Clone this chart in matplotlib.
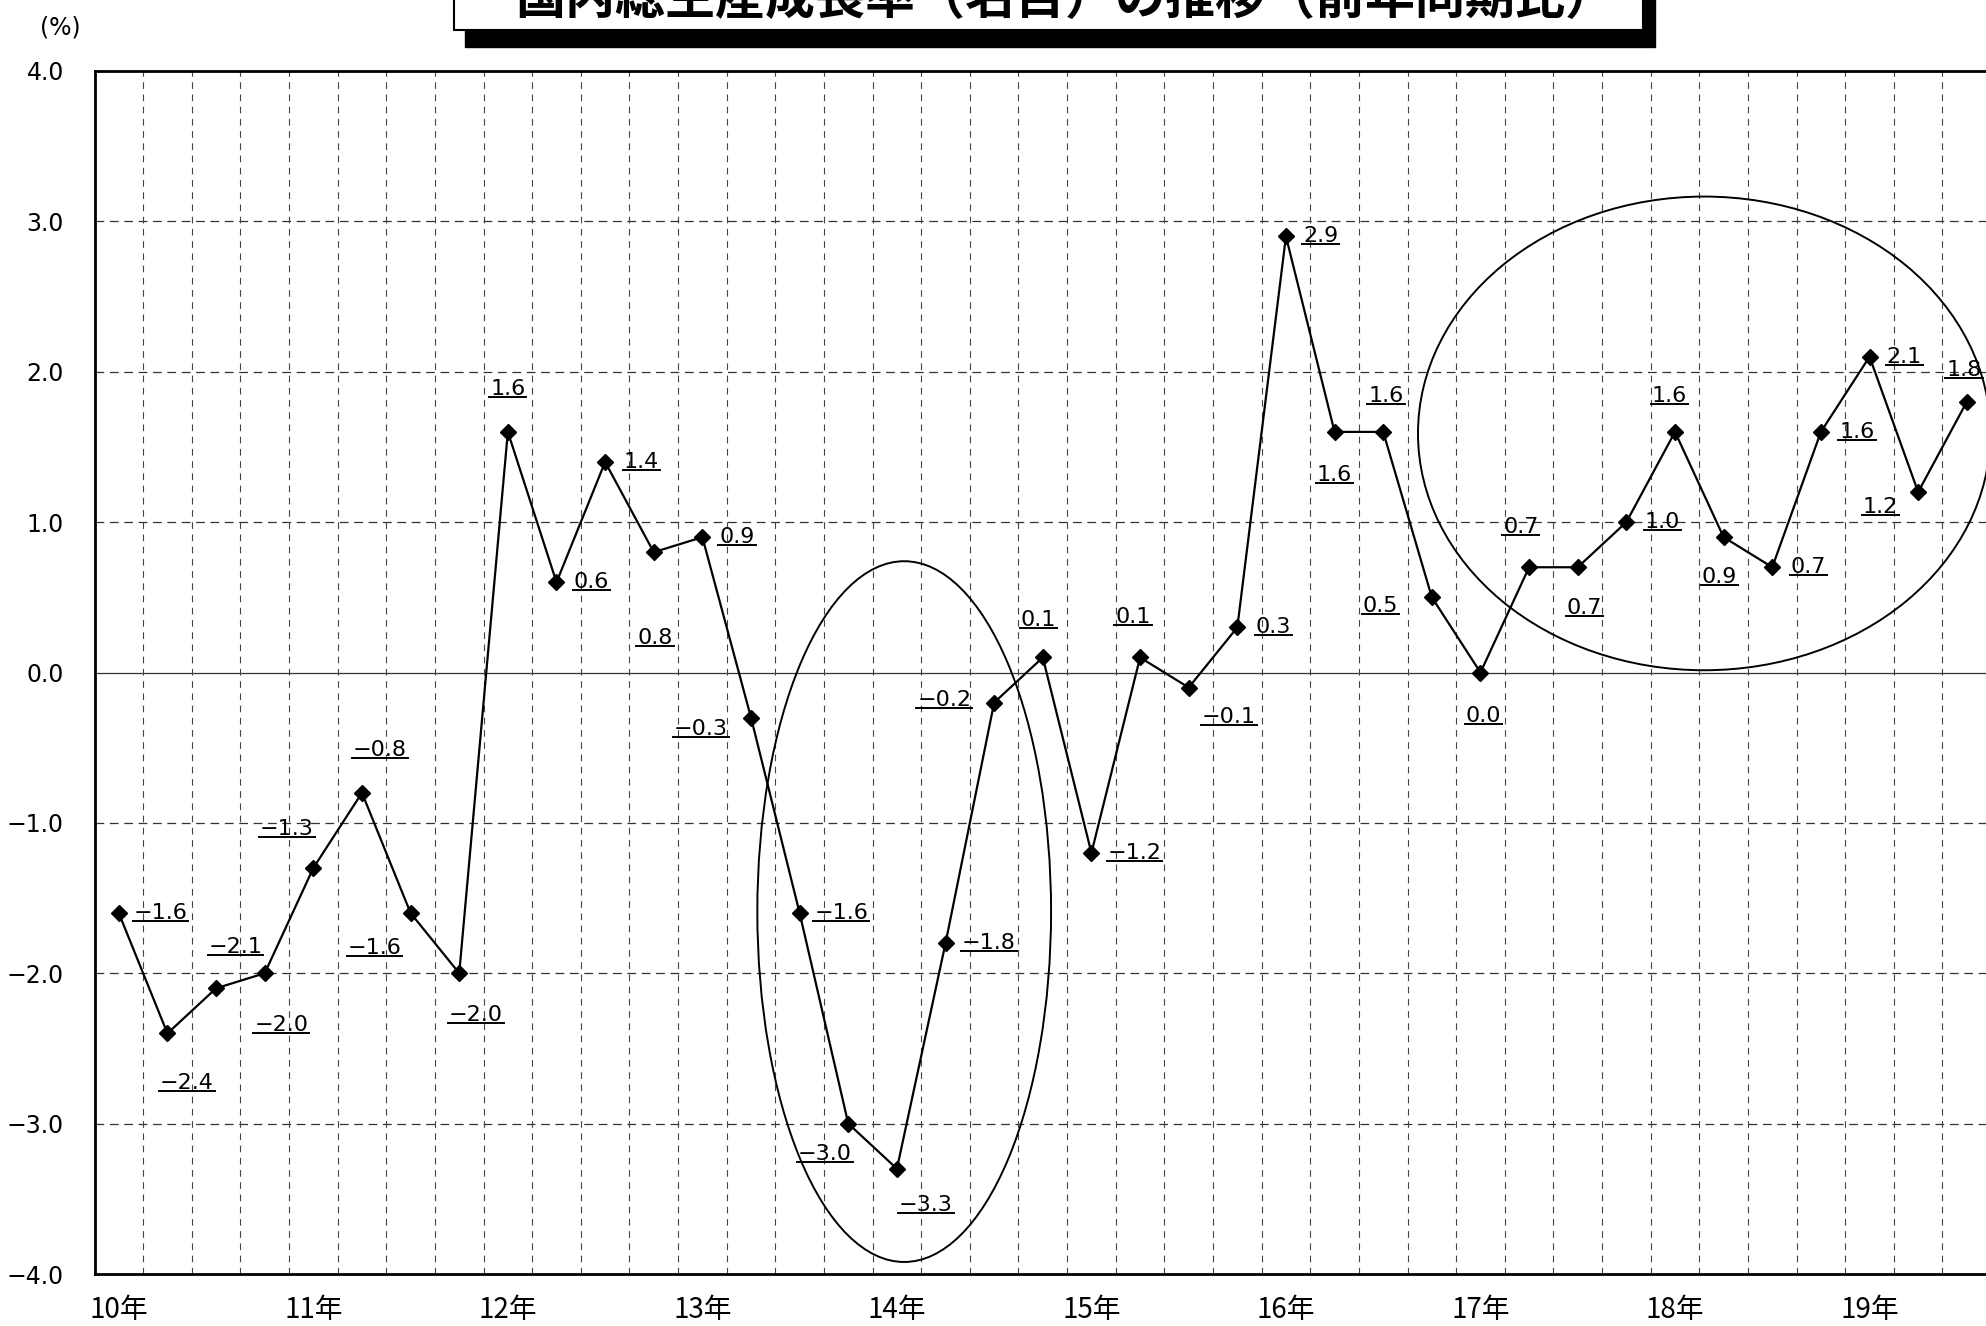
import matplotlib
matplotlib.use("Agg")
import matplotlib.pyplot as plt
from matplotlib.patches import Ellipse, Rectangle
from matplotlib.lines import Line2D

plt.rcParams['font.family'] = ['Noto Sans CJK JP', 'DejaVu Sans']

# ---------------- data ----------------
title = "国内総生産成長率（名目）の推移（前年同期比）"
unit_label = "(%)"
year_labels = ["10年", "11年", "12年", "13年", "14年", "15年", "16年", "17年", "18年", "19年"]
quarters_per_year = 4
values = [-1.6, -2.4, -2.1, -2.0,
          -1.3, -0.8, -1.6, -2.0,
          1.6, 0.6, 1.4, 0.8,
          0.9, -0.3, -1.6, -3.0,
          -3.3, -1.8, -0.2, 0.1,
          -1.2, 0.1, -0.1, 0.3,
          2.9, 1.6, 1.6, 0.5,
          0.0, 0.7, 0.7, 1.0,
          1.6, 0.9, 0.7, 1.6,
          2.1, 1.2, 1.8]
y_ticks = [4.0, 3.0, 2.0, 1.0, 0.0, -1.0, -2.0, -3.0, -4.0]

# label placement offsets (points) for each value label
label_offsets = [(30, 0), (14, -36), (14, 30), (12, -37),
                 (-19, 28), (13, 31), (-26, -25), (12, -30),
                 (0, 31), (25, 0), (26, 0), (1, -62),
                 (25, 0), (-36, -8), (30, 0), (-17, -22),
                 (21, -26), (31, 0), (-36, 2), (-3, 27),
                 (31, 0), (-5, 29), (29, -21), (26, 0),
                 (25, 0), (0, -31), (2, 26), (-37, -6),
                 (2, -31), (-6, 29), (5, -29), (26, 0),
                 (-4, 26), (-3, -29), (26, 0), (26, 0),
                 (25, 0), (-27, -11), (-2, 23)]

# highlight ellipses (data units: center x, center y, width, height)
highlights = [(16.15, -1.59, 6.04, 4.66),
              (32.6, 1.59, 11.77, 3.15)]

NUM_FONT = ["DejaVu Sans"]


def fmt(v):
    return f"{v:.1f}".replace("-", "\u2212")


W, H = 1986, 1326
fig = plt.figure(figsize=(W / 100, H / 100), dpi=100)
fig.patch.set_facecolor("white")

n = len(values)
ax = fig.add_axes([94.5 / W, 1 - 1274 / H, 1896.6 / W, (1274 - 71) / H])
ax.set_xlim(-0.5, n - 0.5)
ax.set_ylim(-4.0, 4.0)

# grid
for yv in y_ticks:
    if yv == 0.0:
        ax.axhline(yv, color="#333333", lw=0.9, zorder=1)
    elif abs(yv) < 4:
        ax.axhline(yv, color="#333333", lw=0.9, dashes=(7, 4.5), zorder=1)
for k in range(n - 1):
    ax.axvline(k + 0.5, color="#444444", lw=0.8, dashes=(6, 5), zorder=1)

x = list(range(n))
ax.plot(x, values, color="black", lw=1.6, marker="D", markersize=8.5,
        markerfacecolor="black", markeredgecolor="black", zorder=3)

texts = []
for xi, v, (dx, dy) in zip(x, values, label_offsets):
    t = ax.annotate(fmt(v), (xi, v), xytext=(dx, dy), textcoords="offset points",
                    ha="center", va="center", fontsize=16,
                    family=NUM_FONT, zorder=4)
    texts.append(t)

for cx, cy, w, h in highlights:
    ax.add_patch(Ellipse((cx, cy), w, h, fill=False, edgecolor="black",
                         lw=1.4, zorder=2, clip_on=False))

# axes styling
ax.set_yticks(y_ticks)
ax.set_yticklabels([fmt(v) for v in y_ticks], fontsize=17, family=NUM_FONT)
ax.set_xticks(list(range(0, n, quarters_per_year)))
ax.set_xticklabels(year_labels, fontsize=20)
ax.tick_params(axis="y", length=0, pad=22)
ax.tick_params(axis="x", length=0, pad=15)
for s in ["left", "top", "bottom"]:
    ax.spines[s].set_linewidth(2.0)
ax.spines["right"].set_visible(False)

fig.text(60 / W, 1 - 27 / H, unit_label, fontsize=17, ha="center", va="center",
         family=NUM_FONT)

# title box with shadow (partially cut off at top, as in the source image)
fig.add_artist(Rectangle((465 / W, 1 - 47 / H), 1190 / W, 0.08,
                         transform=fig.transFigure, facecolor="black",
                         edgecolor="black", zorder=5))
fig.add_artist(Rectangle((454 / W, 1 - 30 / H), 1189 / W, 0.08,
                         transform=fig.transFigure, facecolor="white",
                         edgecolor="black", lw=1.5, zorder=6))
fig.text(1065 / W, 1 - 14 / H, title, fontsize=36, fontweight="bold",
         ha="center", va="baseline", zorder=7)

# underline value labels
fig.canvas.draw()
renderer = fig.canvas.get_renderer()
inv = fig.transFigure.inverted()
for t in texts:
    bb = t.get_window_extent(renderer)
    yline = bb.y0 + 2
    (fx0, fy), (fx1, _) = inv.transform([(bb.x0 - 1, yline), (bb.x1 + 1, yline)])
    fig.add_artist(Line2D([fx0, fx1], [fy, fy], transform=fig.transFigure,
                          color="black", lw=1.4, zorder=8))

fig.savefig("out.png", dpi=100)
